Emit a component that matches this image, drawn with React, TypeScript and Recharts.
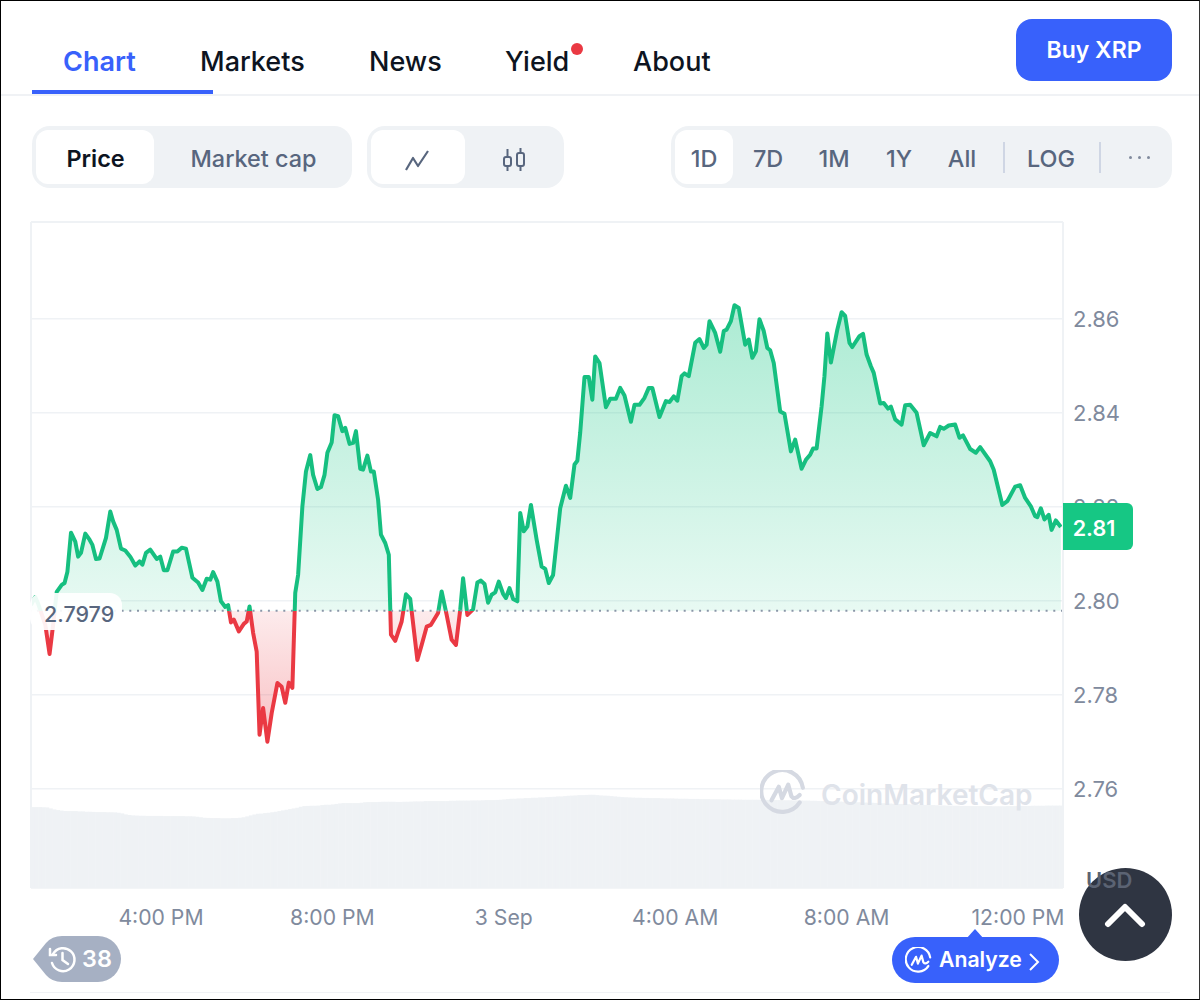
import { Area, Bar, CartesianGrid, ComposedChart, ReferenceLine, XAxis, YAxis } from "recharts";

const FONT = "Inter, sans-serif";
const GREEN = "#16c784";
const RED = "#ea3943";
const BLUE = "#3861fb";
const GRAY = "#58667e";
const AXIS_GRAY = "#808a9d";
const PANEL = "#eff2f5";

const CHART_W = 1200;
const CHART_H = 1000;
const PLOT_TOP = 222;
const PLOT_BOTTOM = 888;

// minutes after the first sample
const priceMinutes = [
  0, 3, 6, 10, 20, 26, 31, 36, 43, 47, 51, 56, 62, 66, 70, 76, 82, 86, 91, 96, 105, 111, 115, 120, 126, 132, 139, 146,
  152, 156, 161, 167, 176, 181, 186, 191, 199, 205, 211, 217, 226, 234, 240, 246, 251, 255, 261, 266, 272, 276, 280,
  284, 291, 298, 302, 306, 311, 316, 320, 325, 331, 337, 345, 351, 356, 361, 366, 370, 374, 380, 385, 391, 395, 401,
  406, 411, 415, 421, 425, 430, 436, 440, 446, 451, 455, 461, 465, 471, 476, 480, 486, 490, 496, 501, 504, 510, 519,
  525, 531, 541, 547, 554, 560, 570, 575, 582, 589, 595, 601, 605, 611, 619, 625, 630, 635, 640, 645, 650, 655, 661,
  665, 670, 675, 681, 685, 690, 695, 700, 708, 715, 720, 725, 731, 736, 741, 749, 755, 761, 765, 769, 775, 781, 786,
  790, 796, 805, 811, 819, 825, 831, 840, 845, 852, 859, 865, 870, 880, 889, 894, 900, 905, 911, 915, 921, 930, 936,
  942, 946, 950, 958, 965, 970, 974, 980, 985, 991, 1000, 1005, 1010, 1015, 1020, 1026, 1031, 1035, 1040, 1049, 1055,
  1064, 1070, 1079, 1085, 1091, 1095, 1100, 1107, 1111, 1115, 1120, 1129, 1135, 1140, 1146, 1150, 1160, 1165, 1170,
  1176, 1180, 1189, 1194, 1200, 1204, 1210, 1219, 1224, 1231, 1240, 1250, 1259, 1268, 1273, 1278, 1285, 1294, 1300,
  1305, 1315, 1323, 1329, 1343, 1348, 1360, 1367, 1378, 1385, 1392, 1400, 1406, 1409, 1414, 1419, 1425, 1429, 1435,
  1442,
];

const prices = [
  2.7991, 2.8, 2.8008, 2.7994, 2.7949, 2.7887, 2.7949, 2.8019, 2.8034, 2.8038, 2.8062, 2.8145, 2.8126, 2.8094, 2.8102,
  2.8143, 2.813, 2.8119, 2.8089, 2.809, 2.8134, 2.819, 2.8169, 2.8151, 2.8111, 2.8107, 2.8094, 2.8075, 2.8084, 2.8077,
  2.8102, 2.8109, 2.8089, 2.8094, 2.8065, 2.8065, 2.8105, 2.8105, 2.8113, 2.8111, 2.8049, 2.8039, 2.8023, 2.8047,
  2.8045, 2.8061, 2.8041, 2.7999, 2.7987, 2.7991, 2.7954, 2.796, 2.7935, 2.7951, 2.7956, 2.7988, 2.7932, 2.7892,
  2.7715, 2.7772, 2.77, 2.7761, 2.7825, 2.7817, 2.7783, 2.7826, 2.7815, 2.8017, 2.8055, 2.8201, 2.8275, 2.831, 2.8268,
  2.8238, 2.8242, 2.8268, 2.8315, 2.8337, 2.8395, 2.8393, 2.8361, 2.8368, 2.8334, 2.8336, 2.8361, 2.8281, 2.8279,
  2.8309, 2.8275, 2.8275, 2.8215, 2.8141, 2.8123, 2.8098, 2.7928, 2.7915, 2.7956, 2.8014, 2.8004, 2.7874, 2.7906,
  2.7945, 2.7949, 2.7974, 2.802, 2.797, 2.7917, 2.7906, 2.7981, 2.8048, 2.797, 2.7982, 2.8039, 2.8043, 2.8036, 2.7996,
  2.8013, 2.8018, 2.8041, 2.8015, 2.8006, 2.8027, 2.8004, 2.7999, 2.8187, 2.8148, 2.8158, 2.8204, 2.813, 2.8073,
  2.8068, 2.8038, 2.8055, 2.8126, 2.8197, 2.8245, 2.8219, 2.829, 2.8298, 2.8358, 2.8476, 2.8476, 2.8428, 2.852, 2.8506,
  2.8412, 2.843, 2.843, 2.8453, 2.8437, 2.8381, 2.8417, 2.8417, 2.8432, 2.8453, 2.8453, 2.8391, 2.8425, 2.8423, 2.8435,
  2.8426, 2.8478, 2.8484, 2.8478, 2.8549, 2.8557, 2.8538, 2.8545, 2.8595, 2.857, 2.853, 2.8574, 2.8577, 2.8595, 2.8629,
  2.8623, 2.8545, 2.8556, 2.8517, 2.8531, 2.8599, 2.8574, 2.8538, 2.8533, 2.8506, 2.8403, 2.8398, 2.8318, 2.8343,
  2.8281, 2.83, 2.8311, 2.8324, 2.8324, 2.8414, 2.8478, 2.8569, 2.8507, 2.8577, 2.8614, 2.8606, 2.8549, 2.854, 2.8563,
  2.8568, 2.8524, 2.8499, 2.8485, 2.842, 2.8421, 2.8409, 2.8413, 2.8386, 2.8375, 2.8416, 2.8417, 2.84, 2.8331, 2.8357,
  2.835, 2.837, 2.8366, 2.8373, 2.8375, 2.8347, 2.8352, 2.8323, 2.8315, 2.8327, 2.8297, 2.8279, 2.8204, 2.8212, 2.8243,
  2.8246, 2.8219, 2.8201, 2.818, 2.8178, 2.8197, 2.8173, 2.8183, 2.8151, 2.8171, 2.8157,
];

// one value per 5 minutes, one row per hour (billions)
const volumes = [
  4.86, 4.86, 4.86, 4.85, 4.84, 4.78, 4.72, 4.68, 4.65, 4.63, 4.62, 4.62,
  4.62, 4.6, 4.6, 4.58, 4.58, 4.57, 4.56, 4.56, 4.56, 4.55, 4.55, 4.54,
  4.52, 4.48, 4.42, 4.38, 4.36, 4.35, 4.34, 4.34, 4.33, 4.33, 4.33, 4.33,
  4.33, 4.32, 4.32, 4.32, 4.32, 4.32, 4.32, 4.31, 4.31, 4.3, 4.28, 4.25,
  4.22, 4.21, 4.2, 4.2, 4.2, 4.19, 4.19, 4.19, 4.2, 4.2, 4.22, 4.25,
  4.3, 4.36, 4.42, 4.46, 4.47, 4.5, 4.52, 4.55, 4.58, 4.62, 4.66, 4.7,
  4.74, 4.78, 4.82, 4.88, 4.92, 4.93, 4.94, 4.94, 4.95, 4.98, 5.0, 5.0,
  5.02, 5.05, 5.08, 5.1, 5.1, 5.1, 5.1, 5.1, 5.12, 5.15, 5.16, 5.16,
  5.16, 5.17, 5.18, 5.18, 5.18, 5.18, 5.17, 5.17, 5.18, 5.18, 5.19, 5.2,
  5.2, 5.2, 5.22, 5.22, 5.22, 5.22, 5.22, 5.22, 5.22, 5.24, 5.24, 5.25,
  5.25, 5.25, 5.25, 5.26, 5.26, 5.26, 5.27, 5.28, 5.28, 5.28, 5.29, 5.3,
  5.32, 5.34, 5.36, 5.36, 5.38, 5.38, 5.4, 5.4, 5.42, 5.42, 5.44, 5.44,
  5.46, 5.47, 5.48, 5.5, 5.5, 5.52, 5.54, 5.55, 5.56, 5.58, 5.58, 5.59,
  5.6, 5.6, 5.58, 5.56, 5.55, 5.54, 5.52, 5.5, 5.48, 5.46, 5.45, 5.44,
  5.43, 5.42, 5.42, 5.41, 5.41, 5.4, 5.4, 5.4, 5.39, 5.38, 5.38, 5.38,
  5.37, 5.36, 5.36, 5.36, 5.35, 5.35, 5.35, 5.34, 5.34, 5.34, 5.33, 5.33,
  5.33, 5.32, 5.32, 5.32, 5.31, 5.31, 5.31, 5.3, 5.3, 5.3, 5.3, 5.3,
  5.29, 5.29, 5.28, 5.28, 5.28, 5.28, 5.27, 5.27, 5.27, 5.26, 5.26, 5.26,
  5.25, 5.25, 5.24, 5.24, 5.23, 5.22, 5.22, 5.21, 5.2, 5.2, 5.19, 5.18,
  5.18, 5.17, 5.16, 5.15, 5.14, 5.13, 5.12, 5.12, 5.11, 5.1, 5.09, 5.08,
  5.07, 5.06, 5.05, 5.05, 5.04, 5.03, 5.02, 5.01, 5.0, 5.0, 4.99, 4.98,
  4.98, 4.97, 4.96, 4.96, 4.95, 4.95, 4.94, 4.94, 4.93, 4.93, 4.93, 4.92,
  4.92, 4.92, 4.92, 4.92, 4.92, 4.91, 4.91, 4.91, 4.91, 4.92, 4.92, 4.92,
  4.93, 4.93, 4.93, 4.93, 4.94, 4.94, 4.94, 4.94, 4.95, 4.95, 4.95, 4.95,
  4.95,
];

const BASE_PRICE = 2.7979;
const LAST_PRICE = "2.81";
const Y_MIN = 2.7389;
const Y_MAX = 2.8806;
const X_MAX = 1445;
const VOLUME_MAX = 40;

const priceTicks = [2.76, 2.78, 2.8, 2.82, 2.84, 2.86];
const timeTicks = [182, 422, 662, 902, 1142, 1382];
const timeLabels = ["4:00 PM", "8:00 PM", "3 Sep", "4:00 AM", "8:00 AM", "12:00 PM"];

const tabs = [
  { label: "Chart", left: 63, color: BLUE, weight: 600 },
  { label: "Markets", left: 200, color: "#0d1421", weight: 500 },
  { label: "News", left: 369, color: "#0d1421", weight: 500 },
  { label: "Yield", left: 505, color: "#0d1421", weight: 500 },
  { label: "About", left: 633, color: "#0d1421", weight: 500 },
];

const ranges = [
  { label: "1D", center: 704 },
  { label: "7D", center: 768 },
  { label: "1M", center: 834 },
  { label: "1Y", center: 899 },
  { label: "All", center: 962 },
  { label: "LOG", center: 1051 },
];

const priceRows = priceMinutes.map((minute, i) => ({ minute, price: prices[i] }));
const volumeRows = volumes.map((volume, i) => ({ slot: i, volume }));
const baseOffset = (Y_MAX - BASE_PRICE) / (Y_MAX - Y_MIN);

function box(left: number, top: number, width: number, height: number, extra: React.CSSProperties = {}): React.CSSProperties {
  return { position: "absolute", left, top, width, height, ...extra };
}

function Label({ text, x, y, size = 23.4, weight = 500, color = GRAY, center = false }: any) {
  return (
    <div
      style={{
        position: "absolute",
        left: x,
        top: y,
        transform: center ? "translate(-50%, -50%)" : "translateY(-50%)",
        fontSize: size,
        fontWeight: weight,
        color,
        whiteSpace: "nowrap",
        lineHeight: 1,
      }}
    >
      {text}
    </div>
  );
}

function CmcMark({ left, top, size, color, strokeWidth }: any) {
  return (
    <svg style={{ position: "absolute", left, top }} width={size} height={size} viewBox="0 0 44 44" fill="none">
      <path d="M38 31 A20 20 0 1 1 41 17" stroke={color} strokeWidth={strokeWidth} strokeLinecap="round" />
      <path
        d="M11 29 L18 16 L21 27 L27 14 L30 25 Q33 29 38 24"
        stroke={color}
        strokeWidth={strokeWidth}
        strokeLinecap="round"
        strokeLinejoin="round"
      />
    </svg>
  );
}

function Header() {
  return (
    <>
      {tabs.map((t) => (
        <Label key={t.label} text={t.label} x={t.left} y={61} size={27} weight={t.weight} color={t.color} />
      ))}
      <div style={box(571, 43, 12, 12, { background: RED, borderRadius: "50%" })} />
      <div style={box(32, 90, 181, 4, { background: BLUE })} />
      <div style={box(0, 94, 1200, 2, { background: "#f0f2f5" })} />
      <div style={box(1016, 19, 156, 62, { background: BLUE, borderRadius: 16 })} />
      <Label text="Buy XRP" x={1094} y={50} size={23} weight={600} color="#fff" center />

      <div style={box(32, 126, 320, 62, { background: PANEL, borderRadius: 18 })} />
      <div style={box(36, 130, 118, 54, { background: "#fff", borderRadius: 12 })} />
      <Label text="Price" x={95.5} y={158.5} weight={600} color="#0d1421" center />
      <Label text="Market cap" x={253.5} y={158.5} center />

      <div style={box(367, 126, 197, 62, { background: PANEL, borderRadius: 18 })} />
      <div style={box(371, 130, 94, 54, { background: "#fff", borderRadius: 12 })} />
      <svg style={{ position: "absolute", left: 400, top: 145 }} width={34} height={30} fill="none" stroke={GRAY} strokeWidth={2.2} strokeLinejoin="round">
        <path d="M6 25 L13 13 L18 21 L28 6" />
      </svg>
      <svg style={{ position: "absolute", left: 500, top: 146 }} width={30} height={30} fill="none" stroke={GRAY} strokeWidth={2}>
        <rect x={4} y={11} width={7} height={9} rx={2} />
        <rect x={17} y={7} width={7} height={13} rx={2} />
        <path d="M7.5 3 V11 M7.5 20 V25 M20.5 2 V7 M20.5 20 V25" />
      </svg>

      <div style={box(671, 126, 501, 62, { background: PANEL, borderRadius: 18 })} />
      <div style={box(675, 130, 58, 54, { background: "#fff", borderRadius: 12 })} />
      {ranges.map((r) => (
        <Label key={r.label} text={r.label} x={r.center} y={158.5} center />
      ))}
      <div style={box(1003, 142, 1.5, 31, { background: "#cfd6e4" })} />
      <div style={box(1099, 142, 1.5, 31, { background: "#cfd6e4" })} />
      {[1130, 1139, 1148].map((x) => (
        <div key={x} style={box(x - 1.5, 155.5, 3, 3, { background: AXIS_GRAY, borderRadius: "50%" })} />
      ))}
    </>
  );
}

function Overlays() {
  return (
    <>
      <CmcMark left={760} top={770} size={46} color="#d5d9e2" strokeWidth={4} />
      <Label text="CoinMarketCap" x={821} y={795} size={28} weight={600} color="#dfe3ea" />

      <div style={box(30, 593, 92, 37, { background: "rgba(255,255,255,0.92)", borderRadius: 12 })} />
      <Label text="2.7979" x={44} y={614.5} size={21.5} color={GRAY} />

      <div style={box(1063, 503, 70, 47, { background: GREEN, borderRadius: "0 6px 6px 0" })} />
      <Label text={LAST_PRICE} x={1094} y={529} weight={600} color="#fff" size={21.5} center />

      <div style={box(1079, 868, 93, 93, { background: "#2f3542", borderRadius: "50%" })} />
      <Label text="USD" x={1086} y={880} size={22} weight={600} color="#5b6373" />
      <svg style={{ position: "absolute", left: 1104, top: 900 }} width={42} height={30} fill="none" stroke="#fff" strokeWidth={6} strokeLinecap="round" strokeLinejoin="round">
        <path d="M4 24 L21 7 L38 24" />
      </svg>

      <svg style={{ position: "absolute", left: 32, top: 936 }} width={90} height={46}>
        <path d="M1 23 L14 7 Q20 0 30 0 L66 0 A23 23 0 0 1 66 46 L30 46 Q20 46 14 39 Z" fill="#a6b0c3" />
        <path d="M21 18 A11.5 11.5 0 1 1 20 27 M30.5 17 V24 L36 28" stroke="#fff" strokeWidth={2.5} fill="none" strokeLinecap="round" />
        <path d="M18 13 V19 H24" stroke="#fff" strokeWidth={2.5} fill="none" strokeLinecap="round" />
      </svg>
      <Label text="38" x={82} y={959} weight={600} color="#fff" />

      <svg style={{ position: "absolute", left: 966, top: 929 }} width={18} height={10}>
        <path d="M0 10 L9 0 L18 10 Z" fill={BLUE} />
      </svg>
      <div style={box(892, 937, 167, 46, { background: BLUE, borderRadius: 23 })} />
      <CmcMark left={905} top={947} size={27} color="#fff" strokeWidth={3.6} />
      <Label text="Analyze" x={939} y={960} size={21.2} weight={600} color="#fff" />
      <svg style={{ position: "absolute", left: 1027, top: 952 }} width={14} height={20} fill="none" stroke="#fff" strokeWidth={2}>
        <path d="M3 2 L11 10 L3 18" />
      </svg>

      <div style={box(30, 992, 1140, 1, { background: "#f0f2f5" })} />
      <div style={box(0, 0, 1200, 1000, { boxSizing: "border-box", border: "1.5px solid #000", borderRight: "1px solid #333" })} />
    </>
  );
}

export default function App() {
  return (
    <div style={box(0, 0, CHART_W, CHART_H, { background: "#fff", fontFamily: FONT, overflow: "hidden" })}>
      <div style={{ position: "absolute", left: 0, top: 0 }}>
        <ComposedChart
          width={CHART_W}
          height={CHART_H}
          data={volumeRows}
          barCategoryGap={0}
          margin={{ top: PLOT_TOP, right: 0, left: 31, bottom: 0 }}
        >
          <defs>
            <linearGradient id="priceFill" gradientUnits="userSpaceOnUse" x1="0" y1={PLOT_TOP} x2="0" y2={PLOT_BOTTOM}>
              <stop offset={0.12} stopColor={GREEN} stopOpacity={0.36} />
              <stop offset={baseOffset} stopColor={GREEN} stopOpacity={0.1} />
              <stop offset={baseOffset} stopColor={RED} stopOpacity={0.1} />
              <stop offset={0.78} stopColor={RED} stopOpacity={0.32} />
            </linearGradient>
            <linearGradient id="priceStroke" gradientUnits="userSpaceOnUse" x1="0" y1={PLOT_TOP} x2="0" y2={PLOT_BOTTOM}>
              <stop offset={baseOffset} stopColor="#16bf80" />
              <stop offset={baseOffset} stopColor={RED} />
            </linearGradient>
          </defs>
          <CartesianGrid xAxisId="time" yAxisId="price" horizontal vertical={false} stroke={PANEL} strokeWidth={1.5} />
          <XAxis
            xAxisId="time"
            dataKey="minute"
            type="number"
            domain={[0, X_MAX]}
            ticks={timeTicks}
            tickFormatter={(m: number) => timeLabels[timeTicks.indexOf(m)]}
            height={112}
            interval={0}
            axisLine={false}
            tickLine={false}
            tickMargin={16}
            allowDataOverflow
            tick={{ fill: AXIS_GRAY, fontSize: 21.2, fontFamily: FONT }}
          />
          <XAxis xAxisId="slots" dataKey="slot" type="category" hide height={0} />
          <YAxis
            yAxisId="price"
            orientation="right"
            domain={[Y_MIN, Y_MAX]}
            ticks={priceTicks}
            tickFormatter={(v: number) => v.toFixed(2)}
            width={137}
            axisLine={{ stroke: PANEL, strokeWidth: 2 }}
            tickLine={false}
            tickMargin={4}
            allowDataOverflow
            tick={{ fill: AXIS_GRAY, fontSize: 22, fontFamily: FONT }}
          />
          <YAxis yAxisId="volume" hide domain={[0, VOLUME_MAX]} />
          <ReferenceLine xAxisId="time" yAxisId="price" y={Y_MAX} stroke={PANEL} strokeWidth={2} />
          <ReferenceLine xAxisId="time" yAxisId="price" x={0} stroke={PANEL} strokeWidth={2} />
          <Bar xAxisId="slots" yAxisId="volume" dataKey="volume" fill={PANEL} isAnimationActive={false} />
          <Area
            xAxisId="time"
            yAxisId="price"
            data={priceRows}
            dataKey="price"
            type="linear"
            baseValue={BASE_PRICE}
            stroke="url(#priceStroke)"
            strokeWidth={4}
            strokeLinejoin="round"
            fill="url(#priceFill)"
            fillOpacity={1}
            dot={false}
            activeDot={false}
            isAnimationActive={false}
          />
          <ReferenceLine xAxisId="time" yAxisId="price" y={BASE_PRICE} stroke="#8a96a8" strokeWidth={2} strokeDasharray="2 5.7" />
        </ComposedChart>
      </div>
      <Header />
      <Overlays />
    </div>
  );
}
